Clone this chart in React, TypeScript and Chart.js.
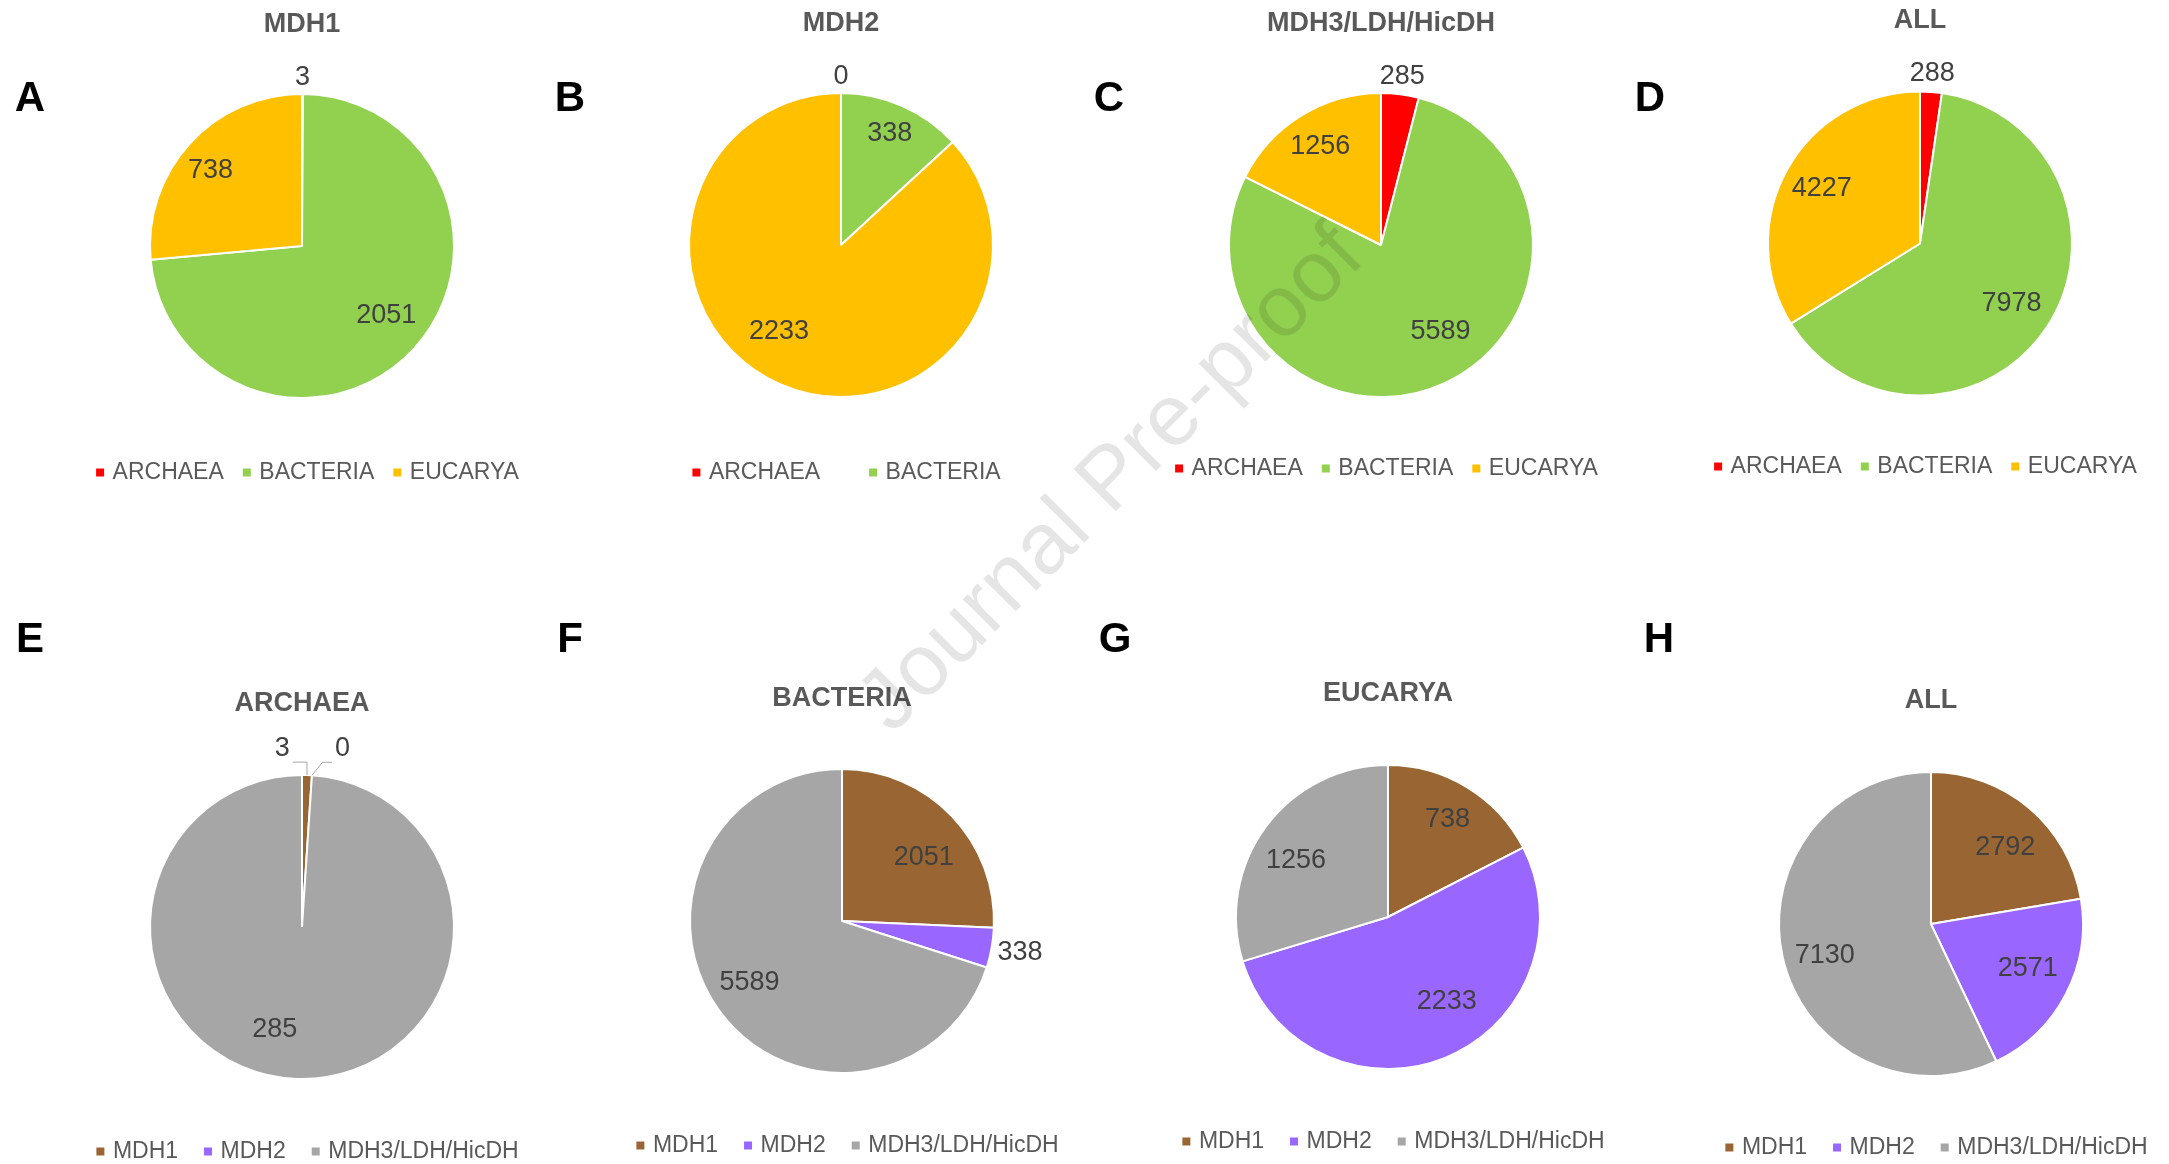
import React, { useEffect, useRef } from "react";
import { Chart, registerables } from "chart.js";

Chart.register(...registerables);

const FONT = '"Liberation Sans", Arial, sans-serif';

// Categories
const DOMAINS = ["ARCHAEA", "BACTERIA", "EUCARYA"];
const ENZYMES = ["MDH1", "MDH2", "MDH3/LDH/HicDH"];

// Top row: sequences per domain for each enzyme group
const MDH1_BY_DOMAIN = [3, 2051, 738];
const MDH2_BY_DOMAIN = [0, 338, 2233];
const MDH3_BY_DOMAIN = [285, 5589, 1256];
const ALL_BY_DOMAIN = [288, 7978, 4227];

// Bottom row: sequences per enzyme group for each domain
const ARCHAEA_BY_ENZYME = [3, 0, 285];
const BACTERIA_BY_ENZYME = [2051, 338, 5589];
const EUCARYA_BY_ENZYME = [738, 2233, 1256];
const ALL_BY_ENZYME = [2792, 2571, 7130];

const DOMAIN_COLORS = ["#FF0000", "#92D050", "#FFC000"];
const ENZYME_COLORS = ["#996633", "#9966FF", "#A6A6A6"];

const TITLE_SIZE = 27;
const LEGEND_SIZE = 23;
const VALUE_SIZE = 27;
const PIE_RADIUS = 152;

type LabelSpec = { r?: number; da?: number; leader?: boolean; dx?: number; dy?: number; elbow?: number };

type Panel = {
  letter: string;
  title: string;
  labels: string[];
  values: number[];
  colors: string[];
  hide?: number[];
  cx: number;
  ty: number;
  cy: number;
  ly: number;
  rowTop: number;
  legendPad: number;
  letterX: number;
  letterY: number;
  specs: LabelSpec[];
};

const PANELS: Panel[] = [
  { letter: "A", title: "MDH1", labels: DOMAINS, values: MDH1_BY_DOMAIN, colors: DOMAIN_COLORS,
    cx: 301.6, ty: 25, cy: 246, ly: 471.7, rowTop: 0, legendPad: 22, letterX: 30, letterY: 97,
    specs: [{ r: 1.11 }, { r: 0.72, da: -3 }, { r: 0.78, da: -3 }] },
  { letter: "B", title: "MDH2", labels: DOMAINS, values: MDH2_BY_DOMAIN, colors: DOMAIN_COLORS, hide: [2],
    cx: 841, ty: 23.5, cy: 245, ly: 471.7, rowTop: 0, legendPad: 52, letterX: 570, letterY: 97,
    specs: [{ r: 1.11 }, { r: 0.8 }, { r: 0.7, da: 12 }] },
  { letter: "C", title: "MDH3/LDH/HicDH", labels: DOMAINS, values: MDH3_BY_DOMAIN, colors: DOMAIN_COLORS,
    cx: 1380.5, ty: 23.5, cy: 245, ly: 467.6, rowTop: 0, legendPad: 22, letterX: 1109, letterY: 97,
    specs: [{ r: 1.12 }, { r: 0.69, da: -10 }, { r: 0.76 }] },
  { letter: "D", title: "ALL", labels: DOMAINS, values: ALL_BY_DOMAIN, colors: DOMAIN_COLORS,
    cx: 1920, ty: 21, cy: 243.5, ly: 466, rowTop: 0, legendPad: 22, letterX: 1650, letterY: 97,
    specs: [{ r: 1.12 }, { r: 0.72 }, { r: 0.74 }] },
  { letter: "E", title: "ARCHAEA", labels: ENZYMES, values: ARCHAEA_BY_ENZYME, colors: ENZYME_COLORS,
    cx: 301.6, ty: 704, cy: 927, ly: 1151, rowTop: 580, legendPad: 29, letterX: 30, letterY: 638,
    specs: [
      { leader: true, dx: -24.6, dy: -27, elbow: 0 },
      { leader: true, dx: 30.5, dy: -27, elbow: 10.5 },
      { r: 0.7, da: 13 },
    ] },
  { letter: "F", title: "BACTERIA", labels: ENZYMES, values: BACTERIA_BY_ENZYME, colors: ENZYME_COLORS,
    cx: 842, ty: 698.6, cy: 921, ly: 1145, rowTop: 580, legendPad: 29, letterX: 570, letterY: 638,
    specs: [{ r: 0.68, da: 6 }, { r: 1.19 }, { r: 0.73, da: 2.6 }] },
  { letter: "G", title: "EUCARYA", labels: ENZYMES, values: EUCARYA_BY_ENZYME, colors: ENZYME_COLORS,
    cx: 1387.5, ty: 694, cy: 917, ly: 1141, rowTop: 580, legendPad: 29, letterX: 1115, letterY: 638,
    specs: [{ r: 0.75 }, { r: 0.68, da: -12.6 }, { r: 0.71, da: -5 }] },
  { letter: "H", title: "ALL", labels: ENZYMES, values: ALL_BY_ENZYME, colors: ENZYME_COLORS,
    cx: 1931, ty: 701, cy: 924, ly: 1147, rowTop: 580, legendPad: 29, letterX: 1659, letterY: 638,
    specs: [{ r: 0.7, da: 4 }, { r: 0.7, da: -3 }, { r: 0.73, da: -4 }] },
];

const valueLabelPlugin = {
  id: "valueLabels",
  afterLayout(chart: any, _args: any, opts: any) {
    const lg = chart.legend;
    if (lg && opts && opts.legendShift) {
      lg.left += opts.legendShift;
      lg.right += opts.legendShift;
    }
  },
  afterDatasetsDraw(chart: any, _args: any, opts: any) {
    const specs: LabelSpec[] = (opts && opts.specs) || [];
    const ctx = chart.ctx;
    const meta = chart.getDatasetMeta(0);
    const values = chart.data.datasets[0].data;
    ctx.save();
    ctx.font = `${VALUE_SIZE}px ${FONT}`;
    ctx.fillStyle = "#404040";
    ctx.textAlign = "center";
    ctx.textBaseline = "middle";
    meta.data.forEach((arc: any, i: number) => {
      const { x, y, startAngle, endAngle, outerRadius } = arc.getProps(
        ["x", "y", "startAngle", "endAngle", "outerRadius"], true);
      const s = specs[i] || {};
      const mid = (startAngle + endAngle) / 2 + ((s.da || 0) * Math.PI) / 180;
      const text = String(values[i]);
      let lx: number;
      let ly: number;
      if (s.leader) {
        const ax = x + outerRadius * Math.cos(mid);
        const ay = y + outerRadius * Math.sin(mid);
        lx = ax + (s.dx || 0);
        ly = ay + (s.dy || 0);
        const w = ctx.measureText(text).width;
        const lineY = ly + 14;
        const side = (s.dx || 0) < 0 ? 1 : -1;
        const endX = lx + side * (w / 2 + 3);
        ctx.save();
        ctx.strokeStyle = "#A6A6A6";
        ctx.lineWidth = 1;
        ctx.beginPath();
        ctx.moveTo(ax, ay);
        ctx.lineTo(ax + (s.elbow || 0), lineY);
        ctx.lineTo(endX, lineY);
        ctx.stroke();
        ctx.restore();
      } else {
        const rr = outerRadius * (s.r ?? 0.72);
        lx = x + rr * Math.cos(mid);
        ly = y + rr * Math.sin(mid);
      }
      ctx.fillText(text, lx, ly);
    });
    ctx.restore();
  },
};

function PiePanel({ p }: { p: Panel }) {
  const ref = useRef<HTMLCanvasElement>(null);
  const W = 540;
  const ty = p.ty - p.rowTop;
  const cy = p.cy - p.rowTop;
  const ly = p.ly - p.rowTop;
  const itemH = LEGEND_SIZE;
  const H = Math.ceil(ly + 10 + itemH / 2);
  const legendTop = H - (itemH + p.legendPad + 10);
  const areaTop = 2 * cy - legendTop;
  const lh = TITLE_SIZE * 1.2;
  const tp = ty - lh / 2;
  const tb = areaTop - ty - lh / 2;

  useEffect(() => {
    if (!ref.current) return;
    const hide = p.hide || [];
    const chart = new Chart(ref.current, {
      type: "pie",
      data: {
        labels: p.labels,
        datasets: [
          {
            data: p.values,
            backgroundColor: p.colors,
            borderColor: "#FFFFFF",
            borderWidth: 2,
            radius: PIE_RADIUS,
          } as any,
        ],
      },
      options: {
        responsive: false,
        animation: false,
        events: [],
        layout: { padding: 0 },
        plugins: {
          title: {
            display: true,
            text: p.title,
            color: "#595959",
            font: { family: FONT, size: TITLE_SIZE, weight: "bold", lineHeight: 1.2 },
            padding: { top: tp, bottom: tb },
          },
          legend: {
            display: true,
            position: "bottom",
            labels: {
              usePointStyle: true,
              boxWidth: 2,
              boxHeight: 8,
              padding: p.legendPad,
              color: "#595959",
              font: { family: FONT, size: LEGEND_SIZE },
              generateLabels: (c: any) =>
                (c.data.labels as string[])
                  .map((t, i) => ({
                    text: t,
                    fillStyle: p.colors[i],
                    strokeStyle: p.colors[i],
                    lineWidth: 0,
                    pointStyle: "rect",
                    hidden: false,
                    index: i,
                    fontColor: "#595959",
                  }))
                  .filter((_, i) => !hide.includes(i)),
            },
          },
          tooltip: { enabled: false },
          valueLabels: { specs: p.specs, legendShift: 7 },
        } as any,
      },
      plugins: [valueLabelPlugin as any],
    });
    return () => chart.destroy();
  }, []);

  return (
    <canvas
      ref={ref}
      width={W}
      height={H}
      style={{ position: "absolute", left: p.cx - W / 2, top: p.rowTop, width: W, height: H }}
    />
  );
}

export default function App() {
  return (
    <div
      style={{
        position: "absolute",
        left: 0,
        top: 0,
        width: 2169,
        height: 1164,
        overflow: "hidden",
        background: "#FFFFFF",
        fontFamily: FONT,
      }}
    >
      {PANELS.map((p) => (
        <PiePanel key={p.letter} p={p} />
      ))}
      {PANELS.map((p) => (
        <div
          key={"L" + p.letter}
          style={{
            position: "absolute",
            left: p.letterX,
            top: p.letterY,
            transform: "translate(-50%, -50%)",
            font: `bold 42px ${FONT}`,
            lineHeight: 1,
            color: "#000000",
          }}
        >
          {p.letter}
        </div>
      ))}
      <div
        style={{
          position: "absolute",
          left: 1108,
          top: 476,
          transform: "translate(-50%, -50%) rotate(-45deg)",
          font: `87px ${FONT}`,
          lineHeight: 1,
          color: "rgba(0,0,0,0.1)",
          whiteSpace: "nowrap",
          pointerEvents: "none",
        }}
      >
        Journal Pre-proof
      </div>
    </div>
  );
}
